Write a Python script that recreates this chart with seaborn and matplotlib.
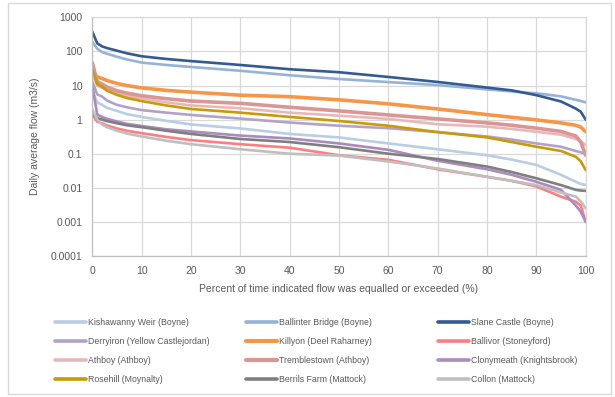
import matplotlib
matplotlib.use("Agg")
import matplotlib.pyplot as plt
import matplotlib.patches as mpatches
from matplotlib.lines import Line2D
import seaborn as sns
import pandas as pd

# percent of time flow equalled or exceeded
pct = [0, 1, 2, 3, 5, 7, 10, 15, 20, 30, 40, 50, 60, 70, 80, 85, 90, 95, 98, 99, 100]

# daily average flow (m3/s)
kishawanny = [7, 3.2, 2.7, 2.2, 1.8, 1.45, 1.2, 0.92, 0.72, 0.55, 0.38, 0.30, 0.20, 0.135, 0.09, 0.067, 0.047, 0.024, 0.015, 0.013, 0.012]
ballinter = [190, 120, 95, 85, 70, 58, 47, 40, 35, 27, 20, 15.5, 12.6, 10.3, 7.7, 6.7, 5.9, 4.8, 3.8, 3.5, 3.2]
slane = [380, 173, 140, 125, 105, 88, 72, 60, 52, 40, 30, 24.5, 17.8, 12.7, 8.7, 7.2, 5.2, 3.4, 2.1, 1.7, 1.0]
derryiron = [13, 5.5, 4.7, 3.6, 2.7, 2.3, 1.9, 1.6, 1.37, 1.07, 0.82, 0.66, 0.56, 0.43, 0.32, 0.26, 0.2, 0.16, 0.12, 0.11, 0.1]
killyon = [25, 18, 16, 14, 11.5, 10, 8.5, 7.2, 6.4, 5.2, 4.7, 3.8, 2.9, 2.05, 1.4, 1.17, 0.98, 0.8, 0.68, 0.6, 0.44]
ballivor = [1.4, 0.87, 0.78, 0.67, 0.55, 0.47, 0.4, 0.31, 0.25, 0.19, 0.15, 0.09, 0.066, 0.035, 0.021, 0.016, 0.011, 0.0055, 0.0039, 0.003, 0.001]
athboy = [20, 10, 8.5, 7.5, 6, 5, 4.2, 3.2, 2.6, 2.15, 1.6, 1.3, 1.05, 0.73, 0.62, 0.53, 0.44, 0.36, 0.27, 0.23, 0.18]
tremblestown = [47, 13, 11, 9, 7.0, 6.0, 5.0, 4.1, 3.5, 3.0, 2.3, 1.8, 1.37, 1.05, 0.8, 0.68, 0.56, 0.45, 0.33, 0.22, 0.09]
clonymeath = [10, 1.4, 1.2, 1.05, 0.88, 0.75, 0.65, 0.52, 0.45, 0.34, 0.28, 0.20, 0.13, 0.062, 0.035, 0.024, 0.015, 0.0087, 0.003, 0.002, 0.001]
rosehill = [30, 11, 9.2, 7, 5.3, 4.3, 3.5, 2.6, 2.05, 1.6, 1.2, 0.91, 0.66, 0.43, 0.3, 0.22, 0.16, 0.12, 0.081, 0.06, 0.033]
berrils = [1.5, 1.1, 1.0, 0.9, 0.78, 0.68, 0.6, 0.47, 0.38, 0.27, 0.22, 0.155, 0.10, 0.07, 0.042, 0.029, 0.019, 0.012, 0.0087, 0.0083, 0.0081]
collon = [2.0, 1.0, 0.71, 0.6, 0.47, 0.39, 0.32, 0.24, 0.19, 0.135, 0.10, 0.088, 0.059, 0.037, 0.021, 0.016, 0.012, 0.0073, 0.0055, 0.004, 0.0025]

names = ["Kishawanny Weir (Boyne)", "Ballinter Bridge (Boyne)", "Slane Castle (Boyne)",
         "Derryiron (Yellow Castlejordan)", "Killyon (Deel Raharney)", "Ballivor (Stoneyford)",
         "Athboy (Athboy)", "Tremblestown (Athboy)", "Clonymeath (Knightsbrook)",
         "Rosehill (Moynalty)", "Berrils Farm (Mattock)", "Collon (Mattock)"]
series = [kishawanny, ballinter, slane, derryiron, killyon, ballivor,
          athboy, tremblestown, clonymeath, rosehill, berrils, collon]
colors = ["#B9CDE5", "#95B3D7", "#335A93", "#B3A2C7", "#F79646", "#FF7C80",
          "#E6B9B8", "#D99694", "#A98BBD", "#C99A06", "#7F7F7F", "#BFBFBF"]
widths = [1.9, 1.9, 1.9, 1.9, 2.6, 1.9, 1.9, 2.6, 1.9, 1.9, 1.9, 1.9]

yticks = [0.0001, 0.001, 0.01, 0.1, 1, 10, 100, 1000]
ylabels = ["0.0001", "0.001", "0.01", "0.1", "1", "10", "100", "1000"]

sns.set_style("white")
plt.rcParams['font.family'] = ['Liberation Sans', 'DejaVu Sans']
txt = "#595959"
grid = "#D9D9D9"

fig = plt.figure(figsize=(6.15, 3.97), dpi=100)
ax = fig.add_axes([92.3 / 615, 1 - 256 / 397, (585.7 - 92.3) / 615, (256 - 17.3) / 397])

for name, vals, c, w in zip(names, series, colors, widths):
    df = pd.DataFrame({"pct": pct, "flow": vals})
    sns.lineplot(data=df, x="pct", y="flow", ax=ax, color=c, lw=w, label=name, legend=False)

ax.set_yscale("log")
ax.set_ylim(0.0001, 1000)
ax.set_xlim(0, 100)
ax.set_yticks(yticks)
ax.set_yticklabels(ylabels)
ax.yaxis.set_minor_locator(matplotlib.ticker.NullLocator())
ax.set_xticks(range(0, 101, 10))
ax.grid(True, color=grid, lw=0.9)
ax.set_axisbelow(True)
for s in ax.spines.values():
    s.set_color(grid)
    s.set_linewidth(0.9)
ax.spines["left"].set_color("#BFBFBF")
ax.spines["bottom"].set_color("#BFBFBF")
ax.tick_params(length=0, labelsize=7.5, labelcolor=txt, pad=7)
ax.set_ylabel("Daily average flow (m3/s)", fontsize=7.5, color=txt, labelpad=8)
ax.set_xlabel("Percent of time indicated flow was equalled or exceeded (%)", fontsize=7.5, color=txt, labelpad=6)

# outer chart border
fig.patches.append(mpatches.Rectangle((8 / 615, 3 / 397), 603 / 615, 391 / 397, transform=fig.transFigure,
                                      fill=False, edgecolor=grid, lw=1))

# legend: three columns, row-major order as in the source
col_x = [55, 246, 438]
for ci in range(3):
    idx = [ci + 3 * r for r in range(4)]
    handles = [Line2D([], [], color=colors[i], lw=3 if widths[i] > 2 else 2.6) for i in idx]
    leg = fig.legend(handles, [names[i] for i in idx], loc="upper left",
                     bbox_to_anchor=(col_x[ci] / 615, 1 - 318 / 397), frameon=False,
                     handlelength=3.5, handletextpad=0.3, labelspacing=1.15,
                     borderpad=0, borderaxespad=0, prop={"size": 6.3})
    for t in leg.get_texts():
        t.set_color(txt)

fig.savefig("out.png", dpi=100)
